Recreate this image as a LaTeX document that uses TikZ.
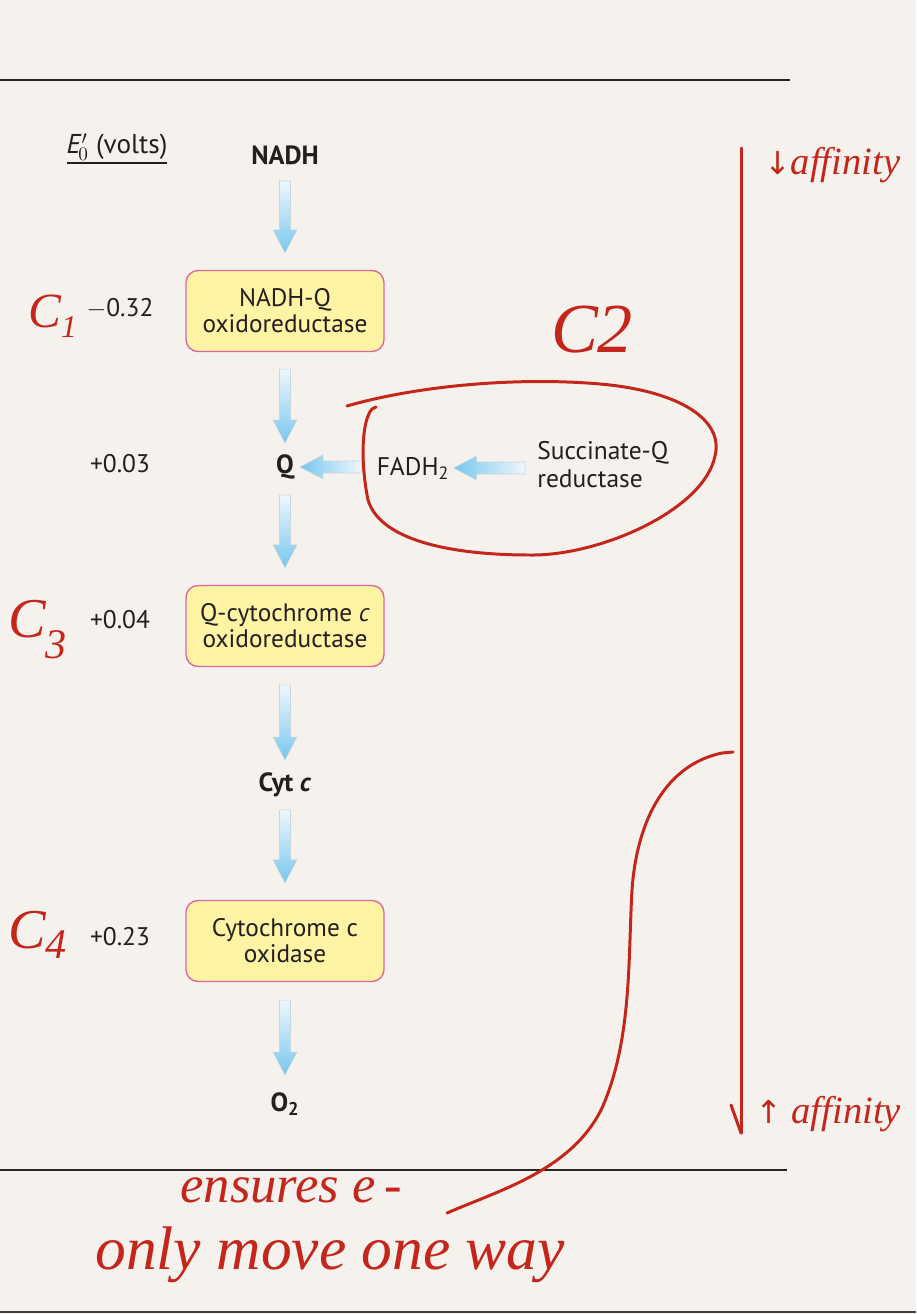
\documentclass[tikz,border=0pt]{standalone}
\usepackage{fontspec}
\setmainfont{PT Sans}
\newfontfamily\hand{Liberation Serif}
\newfontfamily\sym{DejaVu Sans}
\usetikzlibrary{calc}
\definecolor{bg}{HTML}{F5F2EE}
\definecolor{boxfill}{HTML}{FFF4A3}
\definecolor{boxline}{HTML}{E066A0}
\definecolor{arrlight}{HTML}{EEF7FD}
\definecolor{arrdark}{HTML}{78C6EE}
\definecolor{arrline}{HTML}{C9D6DE}
\definecolor{ink}{HTML}{C4261C}
\definecolor{txt}{HTML}{231F20}
\tikzset{
  lbl/.style={inner sep=0pt, text=txt, font=\fontsize{14.5}{16}\selectfont},
  blbl/.style={inner sep=0pt, text=txt, font=\fontsize{15}{16}\selectfont\bfseries},
  cbox/.style={draw=boxline, fill=boxfill, line width=0.8pt, rounded corners=0.24cm,
    minimum width=3.96cm, minimum height=1.62cm, align=center, text=txt,
    font=\fontsize{14.4}{14.8}\selectfont, inner sep=0pt},
  flowarr/.style={draw=arrline, line width=0.3pt},
  pen/.style={draw=ink, line width=1.7pt, line cap=round, line join=round},
  handtxt/.style={text=ink, inner sep=0pt, font=\hand\itshape}
}
\newcommand\varr[2]{\path[flowarr, top color=arrlight, bottom color=arrdark]
  let \p1=(#1), \p2=(#2) in
  (\x2-0.11cm,\y1) -- (\x2+0.11cm,\y1) -- (\x2+0.11cm,\y2+0.46cm) -- (\x2+0.24cm,\y2+0.46cm)
  -- (\x2,\y2) -- (\x2-0.24cm,\y2+0.46cm) -- (\x2-0.11cm,\y2+0.46cm) -- cycle;}
\newcommand\harr[2]{\path[flowarr, left color=arrdark, right color=arrlight]
  let \p1=(#1), \p2=(#2) in
  (\x1,\y2-0.12cm) -- (\x1,\y2+0.12cm) -- (\x2+0.46cm,\y2+0.12cm) -- (\x2+0.46cm,\y2+0.24cm)
  -- (\x2,\y2) -- (\x2+0.46cm,\y2-0.24cm) -- (\x2+0.46cm,\y2-0.12cm) -- cycle;}
\begin{document}
\begin{tikzpicture}[x=0.02cm,y=-0.02cm]
\useasboundingbox (0,0) rectangle (916,1314);
\fill[bg] (0,0) rectangle (916,1314);
% frame lines
\draw[black!85, line width=0.6pt] (0,80) -- (790,80);
\draw[black!85, line width=0.6pt] (0,1170) -- (787,1170);
\draw[black!75, line width=1.2pt] (0,1312) -- (916,1312);

% header
\node[lbl, font=\fontsize{15.5}{17}\selectfont] (ehead) at (117,147) {\textit{E}$'_{\!0}$ (volts)};
\draw[txt, line width=0.6pt] (67,163) -- (167,163);

% values
\node[lbl] (v1) at (120,308) {$-$0.32};
\node[lbl] (v2) at (120,464) {+0.03};
\node[lbl] (v3) at (120,620) {+0.04};
\node[lbl] (v4) at (120,937) {+0.23};

% chain
\node[blbl] (nadh) at (285,155) {NADH};
\node[cbox] (c1) at (285,311) {NADH-Q\\oxidoreductase};
\node[blbl] (q) at (285,467) {Q};
\node[lbl] (fadh) at (413,468) {FADH\textsubscript{2}};
\node[lbl, align=left, anchor=west] (sqr) at (537,465) {Succinate-Q\\reductase};
\node[cbox] (c3) at (285,626) {Q-cytochrome \textit{c}\\oxidoreductase};
\node[blbl] (cytc) at (285,785) {Cyt \textit{c}};
\node[cbox] (c4) at (285,941) {Cytochrome c\\oxidase};
\node[blbl] (o2) at (285,1104) {O\textsubscript{2}};

% blue arrows
\varr{[yshift=-0.52cm]nadh.center}{[yshift=0.34cm]c1.north}
\varr{[yshift=-0.34cm]c1.south}{[yshift=0.48cm]q.center}
\varr{[yshift=-0.56cm]q.center}{[yshift=0.34cm]c3.north}
\varr{[yshift=-0.36cm]c3.south}{[yshift=0.50cm]cytc.center}
\varr{[yshift=-0.50cm]cytc.center}{[yshift=0.34cm]c4.north}
\varr{[yshift=-0.36cm]c4.south}{[yshift=0.58cm]o2.center}
\harr{[xshift=-0.30cm]fadh.west}{[xshift=0.30cm]q.center}
\harr{[xshift=-0.24cm]sqr.west}{[xshift=0.08cm]fadh.east}

% handwritten annotations
\node[handtxt, anchor=west] (hc1) at (28,316) {{\fontsize{28}{28}\selectfont C}\raisebox{-6pt}{\fontsize{18}{18}\selectfont 1}};
\node[handtxt, anchor=west] (hc3) at (8,630) {{\fontsize{32}{32}\selectfont C}\raisebox{-12pt}{\fontsize{24}{24}\selectfont 3}};
\node[handtxt, anchor=west] (hc4) at (8,935) {{\fontsize{32}{32}\selectfont C}\raisebox{-6pt}{\fontsize{24}{24}\selectfont 4}};
\node[handtxt, font=\hand\itshape\fontsize{40}{40}\selectfont] (hc2) at (592,330) {C2};
\node[handtxt, anchor=west, font=\hand\itshape\fontsize{22}{22}\selectfont] (aff1) at (764,165) {{\sym\fontsize{18}{18}\selectfont ↓}affinity};
\node[handtxt, anchor=west, font=\hand\itshape\fontsize{22}{22}\selectfont] (aff2) at (755,1114) {{\sym\fontsize{18}{18}\selectfont ↑} affinity};
\node[handtxt, anchor=west, font=\hand\itshape\fontsize{30}{30}\selectfont] (ens) at (180,1190) {ensures e\,-};
\node[handtxt, anchor=west, font=\hand\itshape\fontsize{35}{35}\selectfont] (onl) at (95,1255) {only move one way};

% affinity axis
\coordinate (axtop) at (741,148);
\coordinate (axbot) at (741,1133);
\draw[pen] (axtop) -- (axbot);
\draw[pen] (731,1105) -- (axbot);

% C2 loop
\coordinate (l0) at (347,406);
\coordinate (l1) at (376,407);
\draw[pen] (l0) .. controls (420,385) and (520,377) .. (600,384)
  .. controls (680,391) and (724,420) .. (715,456)
  .. controls (704,510) and (600,556) .. (530,555)
  .. controls (450,555) and (380,540) .. (368,500)
  .. controls (360,460) and (362,420) .. (372,409) -- (l1);

% pointer curve
\coordinate (p0) at (733,752);
\coordinate (p1) at (447,1213);
\draw[pen] (p0) -- (722,753) .. controls (660,766) and (636,830) .. (632,890)
  .. controls (628,960) and (632,1040) .. (602,1108)
  .. controls (572,1170) and (500,1190) .. (p1);
\end{tikzpicture}
\end{document}
